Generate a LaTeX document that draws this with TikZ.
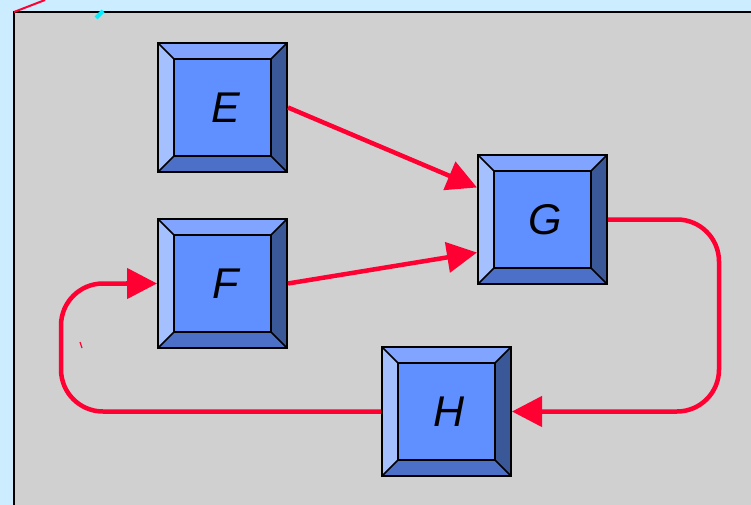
\documentclass[tikz,border=0pt]{standalone}
\usepackage{fontspec}
\setmainfont{Liberation Sans}
\usetikzlibrary{arrows.meta}
\definecolor{bgblue}{RGB}{204,236,255}
\definecolor{panelgray}{RGB}{208,208,208}
\definecolor{bevtop}{RGB}{128,164,255}
\definecolor{bevleft}{RGB}{164,192,255}
\definecolor{bevright}{RGB}{58,88,152}
\definecolor{bevbot}{RGB}{76,112,200}
\definecolor{bevmid}{RGB}{96,144,255}
\definecolor{arrred}{RGB}{255,0,51}
\definecolor{tickcyan}{RGB}{0,240,255}
\tikzset{
  keybox/.style={rectangle, minimum width=129pt, minimum height=129pt, inner sep=0pt,
    font=\fontsize{43}{50}\selectfont\itshape, text width=129pt, align=center,
    path picture={
      \coordinate (nw) at (path picture bounding box.north west);
      \coordinate (ne) at (path picture bounding box.north east);
      \coordinate (sw) at (path picture bounding box.south west);
      \coordinate (se) at (path picture bounding box.south east);
      \coordinate (inw) at ([shift={(16pt,-16pt)}]nw);
      \coordinate (ine) at ([shift={(-16pt,-16pt)}]ne);
      \coordinate (isw) at ([shift={(16pt,16pt)}]sw);
      \coordinate (ise) at ([shift={(-16pt,16pt)}]se);
      \fill[bevmid] (nw) rectangle (se);
      \fill[bevtop] (nw) -- (ne) -- (ine) -- (inw) -- cycle;
      \fill[bevleft] (nw) -- (sw) -- (isw) -- (inw) -- cycle;
      \fill[bevright] (ne) -- (se) -- (ise) -- (ine) -- cycle;
      \fill[bevbot] (sw) -- (se) -- (ise) -- (isw) -- cycle;
      \draw[line width=1.5pt] (inw) rectangle (ise);
      \draw[line width=1.5pt] (nw) -- (inw) (ne) -- (ine) (sw) -- (isw) (se) -- (ise);
    },
    draw=black, line width=2pt},
  arr/.style={draw=arrred, line width=4.5pt, -{Triangle[length=30pt,width=30pt]}},
  flow/.style={draw=arrred, line width=4.5pt, rounded corners=42pt}
}
\begin{document}
\begin{tikzpicture}[x=1pt,y=-1pt]
  \useasboundingbox (0,0) rectangle (751,505);
  \fill[bgblue] (0,0) rectangle (751,505);
  \fill[panelgray] (14,12) rectangle (751,505);
  \draw[line width=2pt] (751,12) -- (14,12) -- (14,505);
  \draw[arrred, line width=2pt] (14,12) -- (45,0);
  \draw[tickcyan, line width=4pt] (96,18) -- (103,11);
  \draw[arrred, line width=1.2pt] (80,342) -- (82,348);

  \node[keybox] (E) at (222.5,107.5) {\hspace*{6pt}E};
  \node[keybox] (G) at (542.5,219.5) {\hspace*{6pt}G};
  \node[keybox] (F) at (222.5,283.5) {\hspace*{6pt}F};
  \node[keybox] (H) at (446.5,411.5) {\hspace*{6pt}H};

  \draw[arr] (E.east) -- ([yshift=32pt]G.west);
  \draw[arr] (F.east) -- ([yshift=-33pt]G.west);
  \draw[flow] (G.east) -- ++(111,0) |- ([xshift=30pt]H.east);
  \draw[arr] ([xshift=30pt]H.east) -- (H.east);
  \draw[flow] (H.west) -- ++(-320,0) |- ([xshift=-30pt]F.west);
  \draw[arr] ([xshift=-31pt]F.west) -- (F.west);
\end{tikzpicture}
\end{document}
